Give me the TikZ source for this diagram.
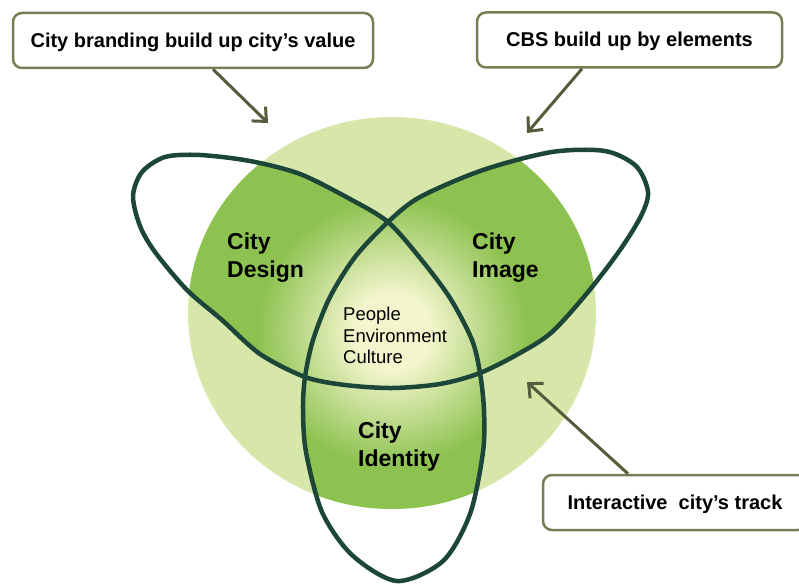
\documentclass[tikz,border=0pt]{standalone}
\usepackage{fontspec}
\setmainfont{Liberation Sans}
\usetikzlibrary{arrows.meta}
\definecolor{meadow}{RGB}{215,231,170}
\definecolor{leaf}{RGB}{141,194,80}
\definecolor{pale}{RGB}{243,245,205}
\definecolor{knot}{RGB}{28,70,56}
\definecolor{rim}{RGB}{116,127,86}
\definecolor{hint}{RGB}{84,92,60}
\pgfdeclareradialshading{glow}{\pgfpoint{0bp}{0bp}}{color(0bp)=(pale); color(4bp)=(pale); color(14bp)=(leaf); color(50bp)=(leaf)}

% one closed line with three lobes
\def\trefoil{plot[smooth cycle] coordinates {(388,222) (350,199) (300,174) (250,161) (200,155) (165,157) (142,172) (133,196) (140,226) (155,252) (187,290) (222,320) (260,354) (305,377) (345,385) (392,388) (440,384) (480,373) (520,353) (552,332) (588,292) (620,250) (641,216) (648,192) (636,166) (605,151) (552,152) (483,170) (420,197) (388,222) (355,257) (330,297) (313,340) (305,377) (303,410) (306,452) (322,512) (352,555) (397,581) (443,561) (470,514) (483,452) (484,410) (480,373) (472,340) (450,298) (420,258)}}

\begin{document}
\begin{tikzpicture}[x=1pt,y=-1pt,
 callout/.style={draw=rim,line width=2.5pt,fill=white,rounded corners=9pt,minimum height=55pt,
  text height=14pt,text depth=0pt,font=\bfseries\fontsize{20}{24}\selectfont},
 region/.style={anchor=north west,inner sep=0pt,align=left,font=\bfseries\fontsize{23}{28}\selectfont},
 nudge/.style={hint,line width=3pt,-{Straight Barb[length=11pt,width=20pt]}}]
\useasboundingbox (0,0) rectangle (799,585);
\clip (0,0) rectangle (799,585);
\fill[meadow] (392,313) ellipse [x radius=204,y radius=196];
\begin{scope}
 \clip (392,313) ellipse [x radius=204,y radius=196];
 \clip \trefoil;
 \shade[shading=glow] (392,332) circle (240);
\end{scope}
\draw[knot,line width=4.5pt] \trefoil;

\node[region] (design) at (227,233) {City\\Design};
\node[region] (image) at (472,233) {City\\Image};
\node[region] (identity) at (358,422) {City\\Identity};
\node[region,font=\fontsize{18.5}{21.5}\selectfont] (core) at (343,307) {People\\Environment\\Culture};

\node[callout,minimum width=360pt] (value) at (193,40.5) {City branding build up city's value};
\node[callout,minimum width=305pt] (elements) at (629.5,40) {CBS build up by elements};
\node[callout,minimum width=264pt] (track) at (675,502.5) {Interactive~~city's track};

\coordinate (valueend) at (268,123);
\coordinate (elementsend) at (527,133);
\coordinate (trackend) at (527,382);
\draw[nudge] ([xshift=20pt]value.south) -- (valueend);
\draw[nudge] ([xshift=-47.5pt]elements.south) -- (elementsend);
\draw[nudge] ([xshift=-47pt]track.north) -- (trackend);
\end{tikzpicture}
\end{document}
